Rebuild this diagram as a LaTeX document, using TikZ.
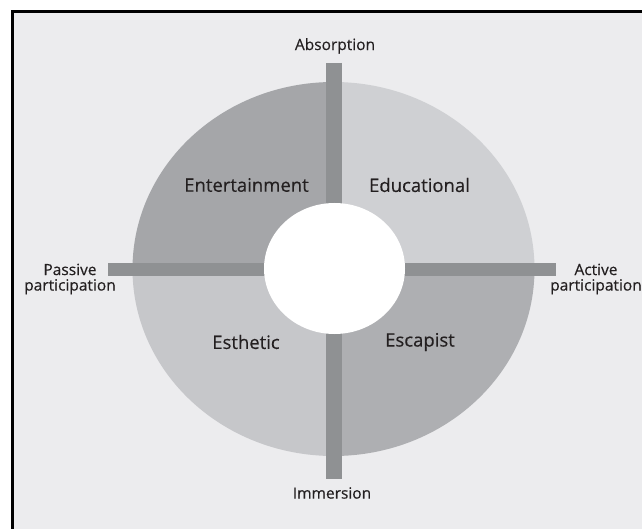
\documentclass[tikz,border=0pt]{standalone}
\usepackage{fontspec}
\setmainfont{Open Sans}
\newfontfamily\diagfont{Open Sans}[FakeBold=0.35]
\usetikzlibrary{positioning}

\definecolor{panelbg}{HTML}{ECECEE}
\definecolor{entcol}{HTML}{A5A6A9}
\definecolor{educol}{HTML}{CFD0D3}
\definecolor{estcol}{HTML}{C6C7CA}
\definecolor{esccol}{HTML}{AEAFB2}
\definecolor{barcol}{HTML}{8F9193}
\definecolor{labeltext}{HTML}{231F20}

\begin{document}
\begin{tikzpicture}[
    x=1pt, y=-1pt,
    quad/.style = {font=\diagfont\fontsize{18.5}{20}\selectfont, text=labeltext},
    pole/.style = {font=\diagfont\fontsize{15.5}{15.5}\selectfont, text=labeltext,
align=center, inner sep=0pt},
    bar/.style = {line width=16pt, draw=barcol, line cap=butt},
    hbar/.style = {bar, line width=13pt}
]
  \useasboundingbox (0,0) rectangle (642,529);
  \clip (0,0) rectangle (642,529);

  % frame
  \draw[line width=3pt, fill=panelbg] (12.5,11.5) rectangle (700,580);

  % disc, four quarters
  \coordinate (c) at (333.5,269);
  \fill[educol] (c) -- +(201pt,0pt) arc[start angle=0, end angle=90, x radius=201pt, y radius=187pt] -- cycle;
  \fill[entcol] (c) -- +(0pt,187pt) arc[start angle=90, end angle=180, x radius=201pt, y radius=187pt] -- cycle;
  \fill[estcol] (c) -- +(-201pt,0pt) arc[start angle=180, end angle=270, x radius=201pt, y radius=187pt] -- cycle;
  \fill[esccol] (c) -- +(0pt,-187pt) arc[start angle=270, end angle=360, x radius=201pt, y radius=187pt] -- cycle;

  % axes
  \coordinate (top)    at (333.5,63);
  \coordinate (bottom) at (333.5,479);
  \coordinate (left)   at (108,269.5);
  \coordinate (right)  at (556,269.5);
  \draw[bar]  (top) -- (bottom);
  \draw[hbar] (left) -- (right);

  % hub
  \fill[white] (334.5,268.5) ellipse [x radius=70.5pt, y radius=65.5pt];

  \node (entertainment) [quad] at (246.5,185) {Entertainment};
  \node (educational)   [quad] at (419.5,185) {Educational};
  \node (esthetic)      [quad] at (246,342)   {Esthetic};
  \node (escapist)      [quad] at (420,342)   {Escapist};

  \node (absorption) [pole] at (335,46)  {Absorption};
  \node (immersion)  [pole] at (332,493) {Immersion};
  \node (passive)    [pole] at (70,279)  {Passive\\participation};
  \node (active)     [pole] at (596,279) {Active\\participation};

\end{tikzpicture}
\end{document}
